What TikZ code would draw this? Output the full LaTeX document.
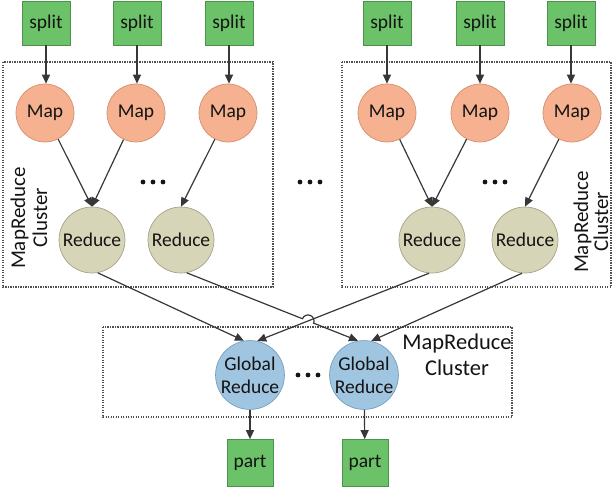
\documentclass[tikz,border=0pt]{standalone}
\usepackage{fontspec}
\setmainfont{Carlito}
\usetikzlibrary{arrows.meta,calc,intersections}
\definecolor{boxfill}{RGB}{108,194,104}
\definecolor{boxborder}{RGB}{76,146,76}
\definecolor{mapfill}{RGB}{245,177,144}
\definecolor{mapborder}{RGB}{212,142,108}
\definecolor{redfill}{RGB}{215,213,183}
\definecolor{redborder}{RGB}{165,163,135}
\definecolor{glfill}{RGB}{160,197,224}
\definecolor{glborder}{RGB}{118,158,190}
\definecolor{linec}{RGB}{55,55,55}
\definecolor{dashc}{RGB}{80,80,80}
\definecolor{txt}{RGB}{20,20,20}
\begin{document}
\begin{tikzpicture}[x=1pt,y=-1pt,
  nodefont/.style={font=\fontsize{19.5}{23}\selectfont,text=txt},
  box/.style={nodefont,draw=boxborder,fill=boxfill,minimum width=48pt,minimum height=44pt,inner sep=0pt,line width=0.7pt},
  mapc/.style={nodefont,circle,draw=mapborder,fill=mapfill,minimum size=58pt,inner sep=0pt,line width=0.7pt},
  redc/.style={nodefont,circle,draw=redborder,fill=redfill,minimum size=66pt,inner sep=0pt,line width=0.7pt},
  glc/.style={nodefont,circle,draw=glborder,fill=glfill,minimum size=66pt,inner sep=0pt,align=center,line width=0.7pt},
  arr/.style={-{Triangle[length=9pt,width=8pt]},draw=linec,line width=1.2pt},
  cluster/.style={draw=dashc,line width=1.4pt,dash pattern=on 1.3pt off 1.2pt},
  lbl/.style={align=center,text=txt},
  dotsty/.style={fill=txt}
]
\useasboundingbox (0,0) rectangle (614,491);

% clusters
\draw[cluster] (3,62) rectangle (273,287);
\draw[cluster] (342,62) rectangle (611,287);
\draw[cluster] (103,327) rectangle (512,417);

% split boxes
\node[box] (s1) at (46,23) {split};
\node[box] (s2) at (137,23) {split};
\node[box] (s3) at (229,23) {split};
\node[box] (s4) at (387,23) {split};
\node[box] (s5) at (480,23) {split};
\node[box] (s6) at (571,23) {split};

% map
\node[mapc] (m1) at (45,113) {Map};
\node[mapc] (m2) at (136,113) {Map};
\node[mapc] (m3) at (228,113) {Map};
\node[mapc] (m4) at (387,113) {Map};
\node[mapc] (m5) at (480,113) {Map};
\node[mapc] (m6) at (572,113) {Map};

% reduce
\node[redc] (r1) at (92,240) {Reduce};
\node[redc] (r2) at (181,240) {Reduce};
\node[redc] (r3) at (432,240) {Reduce};
\node[redc] (r4) at (525,240) {Reduce};

% global reduce
\node[glc] (g1) at (250,375) {Global\\Reduce};
\node[glc] (g2) at (364,375) {Global\\Reduce};

% parts
\node[box,minimum width=46pt,minimum height=47pt] (p1) at (250,463) {part};
\node[box,minimum width=46pt,minimum height=47pt] (p2) at (365,463) {part};

% dots
\foreach \cx/\cy in {153/182, 310/182, 495/182, 308/375}
  { \foreach \k in {-10,0,10} { \fill[dotsty] (\cx+\k,\cy) circle (2.4pt); } }

% labels
\node[lbl,rotate=90,font=\fontsize{21}{22}\selectfont] (l1) at (29,218) {MapReduce\\Cluster};
\node[lbl,rotate=90,font=\fontsize{21}{20}\selectfont] (l2) at (591,222) {MapReduce\\Cluster};
\node[lbl,font=\fontsize{22.5}{26}\selectfont] (l3) at (457,355) {MapReduce\\Cluster};

% arrows split -> map
\foreach \i in {1,...,6} { \draw[arr] (s\i.south) -- (s\i.south |- m\i.north); }

% map -> reduce
\draw[arr] (m1) -- (r1.north);
\draw[arr] (m2) -- (r1.north);
\draw[arr] (m3) -- (r2.north);
\draw[arr] (m4) -- (r3.north);
\draw[arr] (m5) -- (r3.north);
\draw[arr] (m6) -- (r4.north);

% reduce -> global
\draw[arr] (r1.-80) -- (g1.100);
\draw[arr] (r3.-95) -- (g1.78);
\draw[arr] (r4.-95) -- (g2.78);
\path[name path=lineA] (r2.-80) -- (g2.100);
\path[name path=lineB] (r3.-95) -- (g1.78);
\path[name intersections={of=lineA and lineB, by=X}];
\draw[arr] let \p1=($(g2.100)-(r2.-80)$), \n1={atan2(\y1,\x1)} in
  (r2.-80) -- ($(X)!6pt!(r2.-80)$) arc[start angle=\n1+180, delta angle=-180, radius=6pt] -- (g2.100);

% global -> part
\draw[arr] (g1) -- (p1);
\draw[arr] (g2) -- (p2);
\end{tikzpicture}
\end{document}
